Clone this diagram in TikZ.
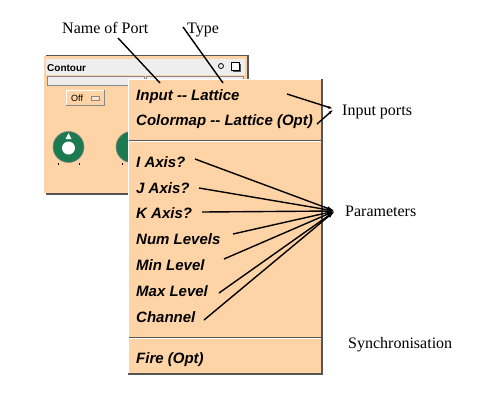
\documentclass[tikz,border=0pt]{standalone}
\usepackage{fontspec}
\setmainfont{Liberation Serif}
\newfontfamily\uifont{Liberation Sans}
\usetikzlibrary{arrows.meta}
\definecolor{peach}{HTML}{FED3A5}
\definecolor{knobgreen}{HTML}{1B7A50}
\definecolor{shadowgray}{HTML}{555555}
\definecolor{titlegray}{HTML}{EEEEEE}
\definecolor{edgegray}{HTML}{888888}
\begin{document}
\begin{tikzpicture}[x=1pt,y=-1pt,
  lbl/.style={font=\fontsize{16}{18}\selectfont, anchor=base west, inner sep=0pt},
  item/.style={font=\uifont\bfseries\itshape\fontsize{15}{17}\selectfont, anchor=base west, inner sep=0pt},
  leader/.style={line width=1.4pt},
  tipline/.style={line width=1.4pt, -{Latex[length=8pt,width=4pt]}},
  knob/.style={fill=knobgreen, draw=edgegray, line width=0.6pt}]
\useasboundingbox (0,0) rectangle (500,400);
\fill[white] (0,0) rectangle (500,400);

% ---- background module window ----
\fill[shadowgray] (46,55) rectangle (249,195);
\fill[peach] (44,56) rectangle (247,193);
\fill[titlegray] (46,59) rectangle (245,75);
\node[font=\uifont\bfseries\fontsize{10}{12}\selectfont, anchor=base west, inner sep=0pt] (ttl) at (47,71) {Contour};
\draw[line width=0.8pt] (221,66) circle (2.5);
\fill[shadowgray] (233,64) rectangle (241,72);
\draw[line width=1pt, fill=white] (231,62) rectangle (239,70);
\draw[edgegray, fill=titlegray] (47,76) rectangle (144,85);
\draw[edgegray, fill=titlegray] (146,76) rectangle (243,85);
% Off button
\fill[edgegray] (66,90) rectangle (105,106);
\fill[white] (66,90) rectangle (104,105);
\fill[peach] (67,91) rectangle (104,105);
\node[font=\uifont\fontsize{9}{10}\selectfont, anchor=base west, inner sep=0pt] (off) at (71,101) {Off};
\draw[edgegray, fill=peach!60!white] (91,96) rectangle (99,100);
% knobs
\draw[knob] (68.5,147) circle (15.5);
\fill[white] (68.5,148) circle (6.5);
\fill[white] (68.5,133) -- (65.5,139) -- (71.5,139) -- cycle;
\draw[line width=0.6pt] (58,163) -- (58,165) (79,163) -- (79,165) (122,163) -- (122,165);
\draw[knob] (131.5,147) circle (15.5);

% ---- port menu ----
\fill[shadowgray] (128,79) rectangle (323,375);
\fill[white] (128,79) rectangle (321,373);
\fill[peach] (129,80) rectangle (321,373);
\fill[shadowgray] (129,139.5) rectangle (321,140.5);
\fill[white] (129,140.5) rectangle (321,141.5);
\fill[shadowgray] (129,336.5) rectangle (321,337.5);
\fill[white] (129,337.5) rectangle (321,338.5);

\node[item] (input) at (136,100) {Input -{}- Lattice};
\node[item] (cmap) at (136,125.5) {Colormap -{}- Lattice (Opt)};
\node[item] (iax) at (136,167) {I Axis?};
\node[item] (jax) at (136,193) {J Axis?};
\node[item] (kax) at (136,218.5) {K Axis?};
\node[item] (numl) at (136,244.5) {Num Levels};
\node[item] (minl) at (136,270.5) {Min Level};
\node[item] (maxl) at (136,296.5) {Max Level};
\node[item] (chan) at (136,322.5) {Channel};
\node[item] (fire) at (136,363) {Fire (Opt)};

% ---- labels ----
\node[lbl] (nport) at (62,33) {Name of Port};
\node[lbl] (ntype) at (187,33) {Type};
\node[lbl] (nin) at (342,115.5) {Input ports};
\node[lbl] (npar) at (345,216.5) {Parameters};
\node[lbl] (nsync) at (348,348.5) {Synchronisation};

% ---- leader lines ----
\coordinate (pA) at (118,38);
\coordinate (pB) at (160,83);
\coordinate (tA) at (183,27);
\coordinate (tB) at (223,83);
\draw[leader] (pA) -- (pB);
\draw[leader] (tA) -- (tB);

\coordinate (inTip) at (334,109);
\coordinate (in1) at (287,94);
\coordinate (in2) at (317,124);
\draw[tipline, -{Latex[length=6pt,width=3pt]}] (in1) -- (inTip);
\draw[tipline, -{Latex[length=6pt,width=3pt]}] (in2) -- (inTip);

\coordinate (parTip) at (335,211);
\coordinate (s1) at (195,159);
\coordinate (s2) at (199,188);
\coordinate (s3) at (202,212);
\coordinate (s4) at (233,234);
\coordinate (s5) at (224,259);
\coordinate (s6) at (219,293);
\coordinate (s7) at (204,320);
\foreach \s in {s1,s2,s3,s4,s5,s6,s7}
  \draw[tipline] (\s) -- (parTip);
\end{tikzpicture}
\end{document}
